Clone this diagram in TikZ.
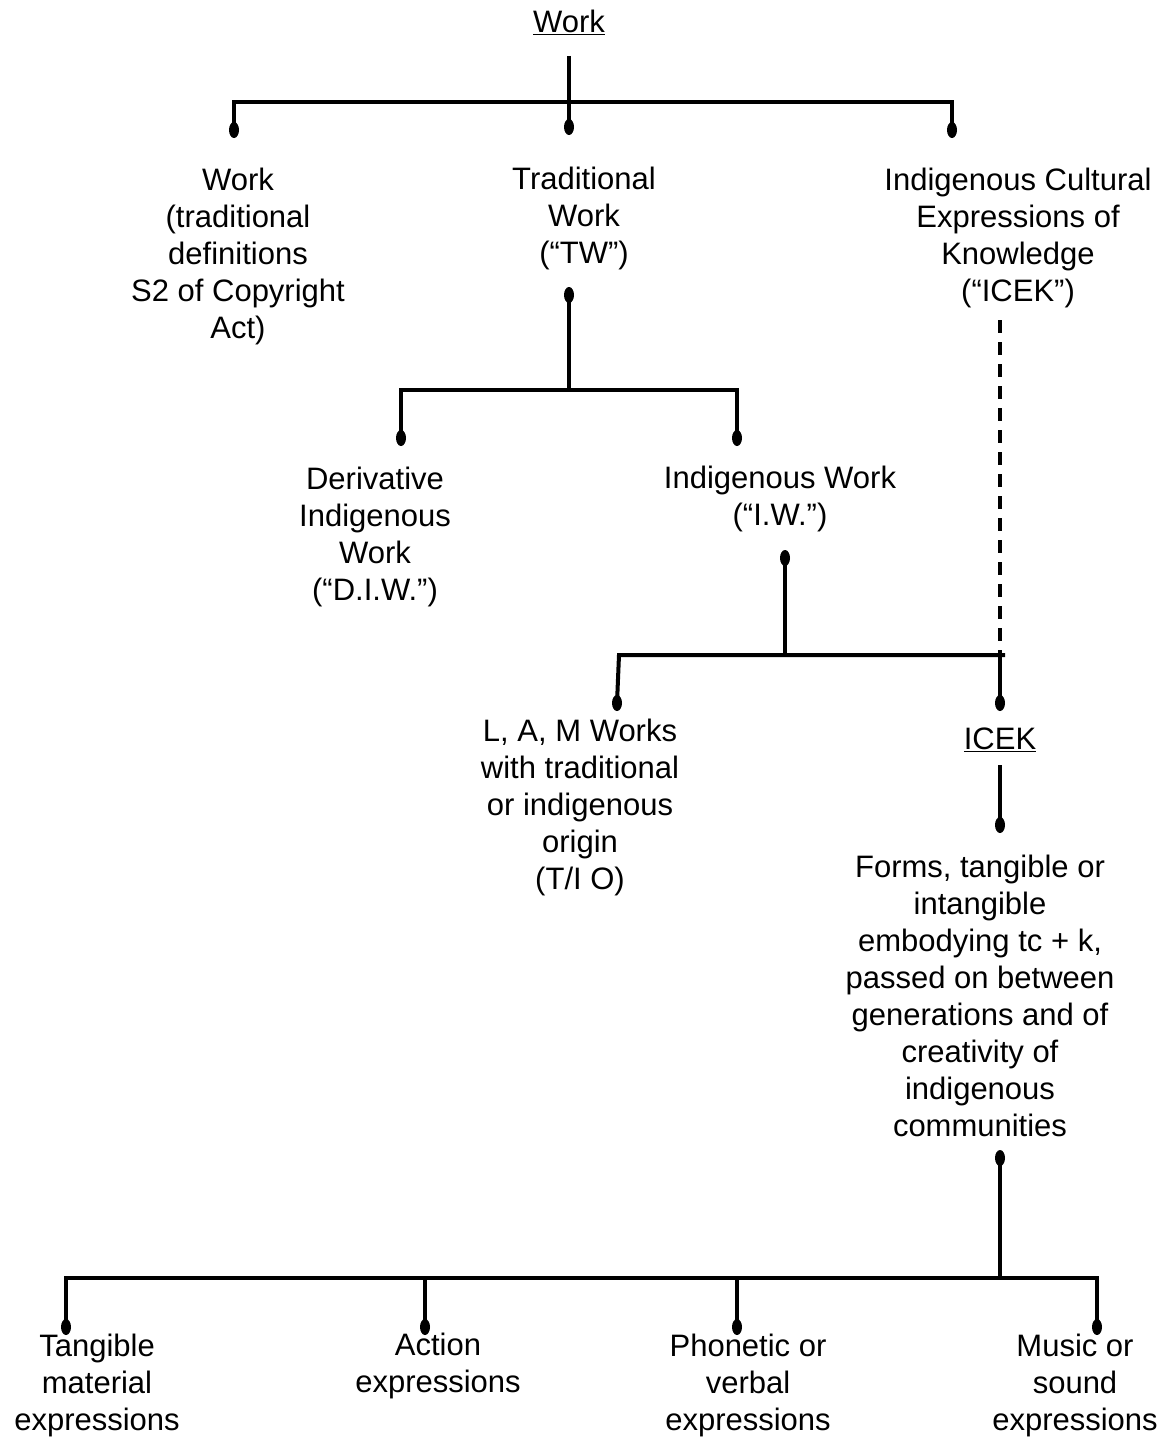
\documentclass[tikz,border=0pt]{standalone}
\usepackage{fontspec}
\setmainfont{Liberation Sans}
\begin{document}
\begin{tikzpicture}[x=1pt,y=-1pt,
  txt/.style={font=\fontsize{31}{37}\selectfont, align=center, inner sep=0pt},
  ln/.style={line width=4pt},
  dsh/.style={line width=4pt, dash pattern=on 13pt off 9pt}]
\useasboundingbox (0,0) rectangle (1171,1437);
\newcommand{\tdot}[1]{\fill (#1) ellipse [x radius=5, y radius=8];}
% texts
\node[txt] (work) at (569,22) {\underline{Work}};
\node[txt] (n1) at (238,256) {Work\\(traditional\\definitions\\S2 of Copyright\\Act)};
\node[txt] (n2) at (584,218) {Traditional\\Work\\(“TW”)};
\node[txt] (n3) at (1018,238) {Indigenous Cultural\\Expressions of\\Knowledge\\(“ICEK”)};
\node[txt] (n4) at (375,537) {Derivative\\Indigenous\\Work\\(“D.I.W.”)};
\node[txt] (n5) at (780,499) {Indigenous Work\\(“I.W.”)};
\node[txt] (n6) at (1000,740) {\underline{ICEK}};
\node[txt] (n7) at (580,807) {L, A, M Works\\with traditional\\or indigenous\\origin\\(T/I O)};
\node[txt] (n8) at (980,996) {Forms, tangible or\\intangible\\embodying tc + k,\\passed on between\\generations and of\\creativity of\\indigenous\\communities};
\node[txt] (b1) at (97,1385) {Tangible\\material\\expressions};
\node[txt] (b2) at (438,1366) {Action\\expressions};
\node[txt] (b3) at (748,1385) {Phonetic or\\verbal\\expressions};
\node[txt] (b4) at (1075,1385) {Music or\\sound\\expressions};
% coordinates
\coordinate (w0) at (569,56);
\coordinate (j1) at (569,102);
\coordinate (d1a) at (234,130);
\coordinate (d1b) at (569,127);
\coordinate (d1c) at (952,130);
\coordinate (d2) at (569,295);
\coordinate (j2) at (569,390);
\coordinate (d2a) at (401,438);
\coordinate (d2b) at (737,438);
\coordinate (d3) at (785,558);
\coordinate (j3) at (785,655);
\coordinate (d3a) at (617,703);
\coordinate (d3b) at (1000,703);
\coordinate (e3) at (1005,655);
\coordinate (ds0) at (1000,320);
\coordinate (ds1) at (1000,660);
\coordinate (i0) at (1000,765);
\coordinate (d4) at (1000,825);
\coordinate (d5) at (1000,1158);
\coordinate (j5) at (1000,1278);
\coordinate (e1) at (66,1327);
\coordinate (e2) at (425,1327);
\coordinate (e3b) at (737,1327);
\coordinate (e4) at (1097,1327);
% connectors
\draw[ln] (w0) -- (d1b);
\draw[ln] (d1a) |- (j1) -| (d1c);
\draw[ln] (d2) -- (j2);
\draw[ln] (d2a) |- (j2) -| (d2b);
\draw[ln] (d3) -- (j3);
\draw[ln] (d3a) -- (619,655) -- (e3);
\draw[ln] (j3 -| d3b) -- (d3b);
\draw[dsh] (ds0) -- (ds1);
\draw[ln] (i0) -- (d4);
\draw[ln] (d5) -- (j5);
\draw[ln] (e1) |- (j5) -| (e4);
\draw[ln] (e2) -- (e2 |- j5);
\draw[ln] (e3b) -- (e3b |- j5);
% dots
\tdot{d1a}\tdot{d1b}\tdot{d1c}\tdot{d2}\tdot{d2a}\tdot{d2b}
\tdot{d3}\tdot{d3a}\tdot{d3b}\tdot{d4}\tdot{d5}
\tdot{e1}\tdot{e2}\tdot{e3b}\tdot{e4}
\end{tikzpicture}
\end{document}
